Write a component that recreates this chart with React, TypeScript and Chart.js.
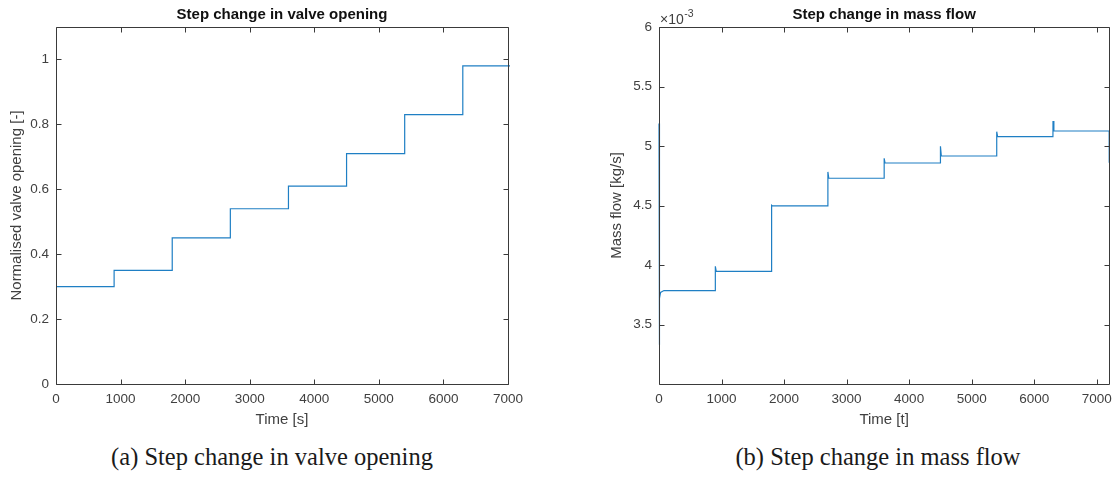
import React, { useEffect, useRef } from "react";
import { Chart, registerables } from "chart.js";

Chart.register(...registerables);

// Normalised valve opening, stepped every 900 s
const valveTimes = [0, 900, 1800, 2700, 3600, 4500, 5400, 6300, 7200];
const valveOpening = [0.3, 0.35, 0.45, 0.54, 0.61, 0.71, 0.83, 0.98, 0.98];

// Mass flow response [kg/s] with a short overshoot after every step
const flowTimes = [
  0, 3, 12, 25, 80, 900, 901, 915, 1800, 1801, 1815, 2700, 2701, 2715, 3600,
  3601, 3615, 4500, 4501, 4515, 5400, 5401, 5415, 6300, 6301, 6315, 7199, 7200,
];
const massFlow = [
  0.00519, 0.00333, 0.00372, 0.00377, 0.003785, 0.003785, 0.003989, 0.003947,
  0.003947, 0.004503, 0.004497, 0.004497, 0.004782, 0.004729, 0.004729,
  0.004897, 0.004857, 0.004857, 0.004997, 0.004916, 0.004916, 0.00512,
  0.005078, 0.005078, 0.00521, 0.005126, 0.005126, 0.00486,
];

// Axis ticks
const timeTicks = [0, 1000, 2000, 3000, 4000, 5000, 6000, 7000];
const valveTicks = [0, 0.2, 0.4, 0.6, 0.8, 1];
const flowTicks = [0.0035, 0.004, 0.0045, 0.005, 0.0055, 0.006];

const SANS = '"Liberation Sans", Arial, sans-serif';
const AXIS_COLOR = "#3a3a3a";
const TEXT_COLOR = "#404040";
const LINE_COLOR = "#1f7fc4";
const TICK_FONT = { family: SANS, size: 13.5 };
const LABEL_FONT = { family: SANS, size: 15 };

// Draws the closed axes box, inward tick marks on all four sides and an
// optional "×10^n" exponent label above the y axis.
const framePlugin = {
  id: "frame",
  afterDatasetsDraw(chart: any, _args: any, opts: any) {
    const { ctx, chartArea: a, scales } = chart;
    const L = Math.round(a.left) + 0.5;
    const R = Math.round(a.right) + 0.5;
    const T = Math.round(a.top) + 0.5;
    const B = Math.round(a.bottom) + 0.5;
    const len = 5;
    ctx.save();
    ctx.strokeStyle = AXIS_COLOR;
    ctx.lineWidth = 1;
    ctx.beginPath();
    ctx.moveTo(L, T);
    ctx.lineTo(R, T);
    ctx.lineTo(R, B);
    ctx.lineTo(L, B);
    ctx.closePath();
    for (const t of scales.x.ticks) {
      const px = Math.round(scales.x.getPixelForValue(t.value)) + 0.5;
      ctx.moveTo(px, B);
      ctx.lineTo(px, B - len);
      ctx.moveTo(px, T);
      ctx.lineTo(px, T + len);
    }
    for (const t of scales.y.ticks) {
      const py = Math.round(scales.y.getPixelForValue(t.value)) + 0.5;
      ctx.moveTo(L, py);
      ctx.lineTo(L + len, py);
      ctx.moveTo(R, py);
      ctx.lineTo(R - len, py);
    }
    ctx.stroke();
    if (opts && opts.exponent) {
      ctx.fillStyle = TEXT_COLOR;
      ctx.textBaseline = "alphabetic";
      ctx.textAlign = "left";
      ctx.font = `14px ${SANS}`;
      const base = "\u00d710";
      ctx.fillText(base, a.left + 1, a.top - 3);
      const w = ctx.measureText(base).width;
      ctx.font = `10.5px ${SANS}`;
      ctx.fillText(opts.exponent, a.left + 1 + w + 0.5, a.top - 10);
    }
    ctx.restore();
  },
};

const fmt = (v: number) => String(Number(v.toFixed(3)));

function makeConfig(p: {
  title: string;
  xTitle: string;
  yTitle: string;
  points: { x: number; y: number }[];
  stepped: boolean;
  xMax: number;
  yMin: number;
  yMax: number;
  yTicks: number[];
  yFormat: (v: number) => string;
  yWidth: number;
  yTitlePad: number;
  padRight: number;
  exponent?: string;
}): any {
  return {
    type: "line",
    data: {
      datasets: [
        {
          data: p.points,
          stepped: p.stepped ? "before" : false,
          borderColor: LINE_COLOR,
          borderWidth: 1.2,
          pointRadius: 0,
          fill: false,
          tension: 0,
          clip: 2,
        },
      ],
    },
    options: {
      animation: false,
      responsive: false,
      maintainAspectRatio: false,
      events: [],
      layout: { padding: { left: 0, right: p.padRight, top: 0, bottom: 0 } },
      plugins: {
        legend: { display: false },
        tooltip: { enabled: false },
        title: {
          display: true,
          text: p.title,
          fullSize: false,
          color: "#111",
          font: { family: SANS, size: 15, weight: "bold" },
          padding: { top: 6, bottom: 3 },
        },
        frame: { exponent: p.exponent },
      },
      scales: {
        x: {
          type: "linear",
          min: 0,
          max: p.xMax,
          afterBuildTicks: (s: any) => {
            s.ticks = timeTicks.map((v) => ({ value: v }));
          },
          afterFit: (s: any) => {
            s.height = 56;
          },
          grid: { display: false, drawTicks: false },
          border: { display: false },
          ticks: {
            color: TEXT_COLOR,
            font: TICK_FONT,
            padding: 7,
            maxRotation: 0,
            autoSkip: false,
            callback: (v: number) => String(v),
          },
          title: {
            display: true,
            text: p.xTitle,
            color: TEXT_COLOR,
            font: LABEL_FONT,
            padding: { top: 0, bottom: 11 },
          },
        },
        y: {
          type: "linear",
          min: p.yMin,
          max: p.yMax,
          afterBuildTicks: (s: any) => {
            s.ticks = p.yTicks.map((v) => ({ value: v }));
          },
          afterFit: (s: any) => {
            s.width = p.yWidth;
          },
          grid: { display: false, drawTicks: false },
          border: { display: false },
          ticks: {
            color: TEXT_COLOR,
            font: TICK_FONT,
            padding: 7,
            autoSkip: false,
            callback: (v: number) => p.yFormat(v),
          },
          title: {
            display: true,
            text: p.yTitle,
            color: TEXT_COLOR,
            font: LABEL_FONT,
            padding: { top: p.yTitlePad, bottom: 0 },
          },
        },
      },
    },
    plugins: [framePlugin],
  };
}

function ChartCanvas({ config, width, height, left }: any) {
  const ref = useRef<HTMLCanvasElement | null>(null);
  useEffect(() => {
    if (!ref.current) return;
    const chart = new Chart(ref.current, config);
    return () => chart.destroy();
  }, [config]);
  return (
    <canvas
      ref={ref}
      width={width}
      height={height}
      style={{ position: "absolute", left, top: 0, width, height }}
    />
  );
}

const valveConfig = makeConfig({
  title: "Step change in valve opening",
  xTitle: "Time [s]",
  yTitle: "Normalised valve opening [-]",
  points: valveTimes.map((t, i) => ({ x: t, y: valveOpening[i] })),
  stepped: true,
  xMax: 7000,
  yMin: 0,
  yMax: 1.1,
  yTicks: valveTicks,
  yFormat: fmt,
  yWidth: 56,
  yTitlePad: 8,
  padRight: 52,
});

const flowConfig = makeConfig({
  title: "Step change in mass flow",
  xTitle: "Time [t]",
  yTitle: "Mass flow [kg/s]",
  points: flowTimes.map((t, i) => ({ x: t, y: massFlow[i] })),
  stepped: false,
  xMax: 7200,
  yMin: 0.003,
  yMax: 0.006,
  yTicks: flowTicks,
  yFormat: (v: number) => fmt(v * 1000),
  yWidth: 99,
  yTitlePad: 48,
  padRight: 9,
  exponent: "-3",
});

const captionStyle: React.CSSProperties = {
  position: "absolute",
  top: 443,
  fontFamily: '"Liberation Serif", "Times New Roman", serif',
  fontSize: 24.5,
  lineHeight: "28px",
  color: "#1a1a1a",
  whiteSpace: "nowrap",
  transform: "translateX(-50%)",
};

export default function App() {
  return (
    <div
      style={{
        position: "absolute",
        left: 0,
        top: 0,
        width: 1119,
        height: 477,
        background: "#fff",
        overflow: "hidden",
      }}
    >
      <ChartCanvas config={valveConfig} width={560} height={440} left={0} />
      <ChartCanvas config={flowConfig} width={559} height={440} left={560} />
      <div style={{ ...captionStyle, left: 272 }}>(a) Step change in valve opening</div>
      <div style={{ ...captionStyle, left: 878 }}>(b) Step change in mass flow</div>
    </div>
  );
}
